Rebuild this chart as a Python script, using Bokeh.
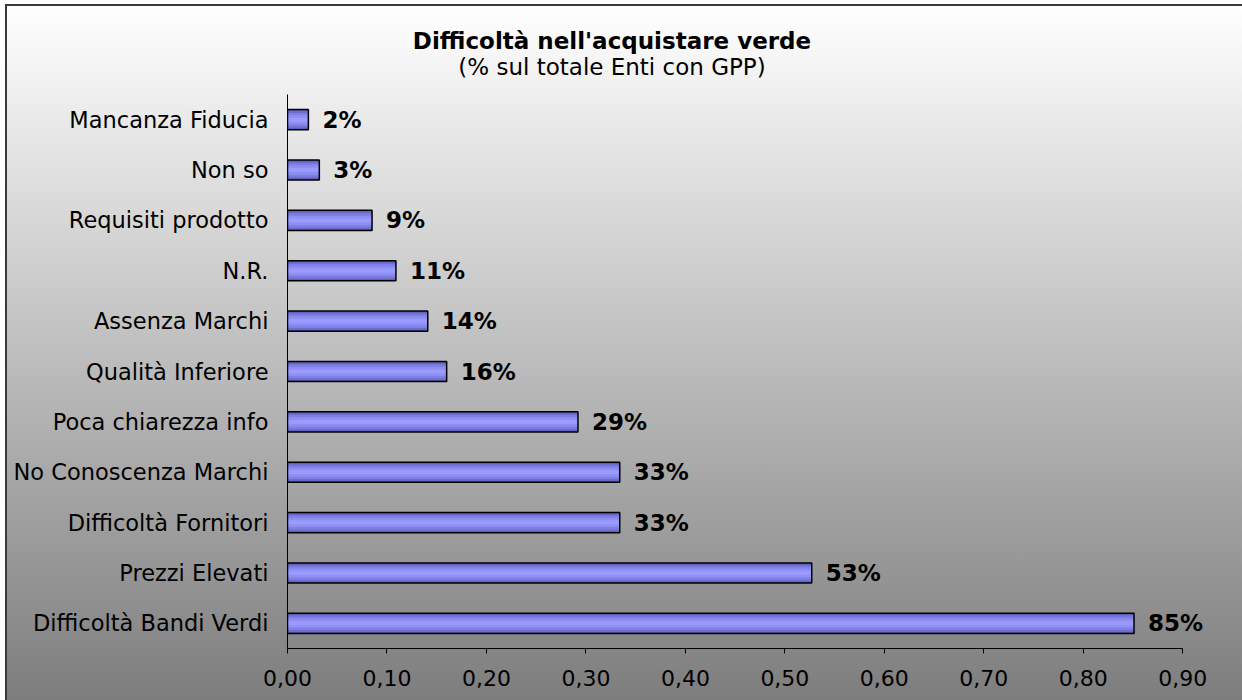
from bokeh.plotting import figure
from bokeh.layouts import column
from bokeh.models import FactorRange, Range1d, FixedTicker, CustomJSTickFormatter, ColumnDataSource, LabelSet, Div
from bokeh.core.properties import value
from bokeh.embed import file_html
from bokeh.resources import INLINE

categories = ["Difficoltà Bandi Verdi", "Prezzi Elevati", "Difficoltà Fornitori",
              "No Conoscenza Marchi", "Poca chiarezza info", "Qualità Inferiore",
              "Assenza Marchi", "N.R.", "Requisiti prodotto", "Non so", "Mancanza Fiducia"]
values = [0.851, 0.527, 0.334, 0.334, 0.292, 0.160, 0.141, 0.109, 0.085, 0.032, 0.021]
value_labels = ["85%", "53%", "33%", "33%", "29%", "16%", "14%", "11%", "9%", "3%", "2%"]
x_ticks = [0.0, 0.1, 0.2, 0.3, 0.4, 0.5, 0.6, 0.7, 0.8, 0.9]
title_text = "Difficoltà nell'acquistare verde"
subtitle_text = "(% sul totale Enti con GPP)"

FONT = "DejaVu Sans"

src = ColumnDataSource(dict(cat=categories, val=values, lab=value_labels))

header = Div(
    text=(
        '<div style="position:relative;width:1242px;height:94px;">'
        '<div style="position:absolute;left:0;top:28px;width:1224px;text-align:center;'
        'font-family:\'DejaVu Sans\';font-size:23px;font-weight:bold;color:#000;'
        'line-height:normal;white-space:nowrap;">' + title_text + '</div>'
        '<div style="position:absolute;left:0;top:54px;width:1224px;text-align:center;'
        'font-family:\'DejaVu Sans\';font-size:23px;font-weight:normal;color:#000;'
        'line-height:normal;white-space:nowrap;">' + subtitle_text + '</div>'
        '</div>'
    ),
    width=1242, height=94, margin=0,
)

p = figure(width=1242, height=606, output_backend="svg", toolbar_location=None,
           y_range=FactorRange(*categories), x_range=Range1d(0, 0.95),
           min_border_left=287, min_border_right=10, min_border_top=0, min_border_bottom=52,
           margin=0)

p.background_fill_color = None
p.border_fill_color = None
p.outline_line_color = None

# bar with vertical shading layers
layers = [(0.40, "#5a5ab6"), (0.34, "#6e6ed0"), (0.27, "#8080e4"), (0.18, "#8e8ef4"), (0.08, "#9b9bff")]
for h, c in layers:
    p.hbar(y="cat", right="val", left=0, height=h, source=src, fill_color=c, line_color=None)
p.hbar(y="cat", right="val", left=0, height=0.40, source=src, fill_alpha=0,
       line_color="#000000", line_width=1.5)

labels = LabelSet(x="val", y="cat", text="lab", source=src, x_offset=14,
                  text_font=value(FONT), text_font_size="23px", text_font_style="bold",
                  text_color="#000000", text_align="left", text_baseline="middle")
p.add_layout(labels)

p.xgrid.visible = False
p.ygrid.visible = False

xa = p.xaxis[0]
xa.bounds = (0, 0.9)
xa.ticker = FixedTicker(ticks=x_ticks)
xa.formatter = CustomJSTickFormatter(code="return tick.toFixed(2).replace('.', ',');")
xa.major_label_text_font = FONT
xa.major_label_text_font_size = "22px"
xa.major_label_text_color = "#000000"
xa.axis_line_color = "#000000"
xa.major_tick_line_color = "#000000"
xa.major_tick_in = 0
xa.major_tick_out = 5
xa.minor_tick_line_color = None
xa.major_label_standoff = 16

ya = p.yaxis[0]
ya.major_label_text_font = FONT
ya.major_label_text_font_size = "22.5px"
ya.major_label_text_color = "#000000"
ya.axis_line_color = "#000000"
ya.major_tick_line_color = None
ya.minor_tick_line_color = None
ya.major_label_standoff = 13

layout = column(header, p, spacing=0, width=1242, height=700, margin=0)
layout.styles = {
    "background": "linear-gradient(#3a3a3a,#3a3a3a) 5px 4px / 2px 100% no-repeat, "
                  "linear-gradient(#3a3a3a,#3a3a3a) 5px 4px / 100% 2px no-repeat, "
                  "linear-gradient(to bottom, #ffffff 0%, #7c7c7c 100%) 7px 6px / 100% 100% no-repeat, "
                  "#ffffff"
}

open("out.html", "w").write(file_html(layout, INLINE))
